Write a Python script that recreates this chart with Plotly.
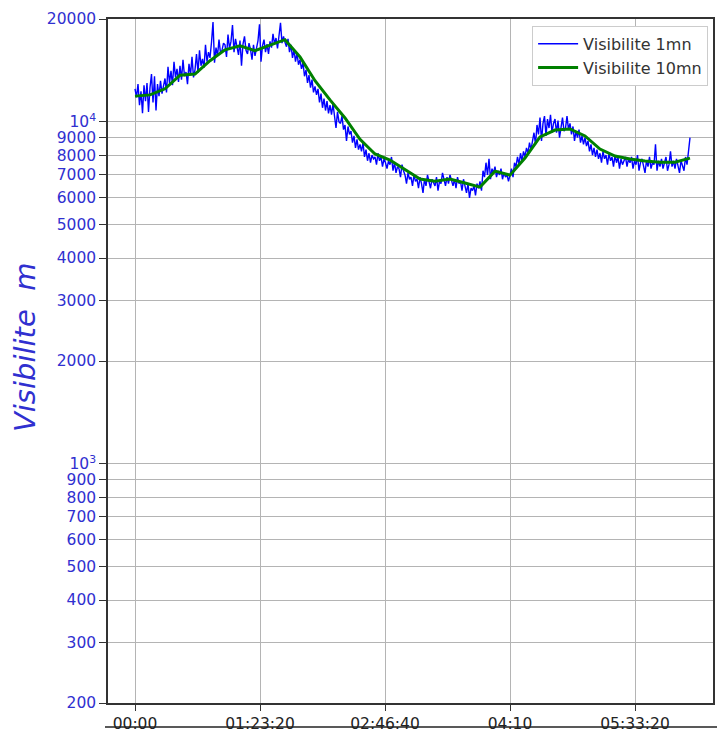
import math
import plotly.graph_objects as go

# ---- data ----
# 1-minute visibility, one value per minute from 00:00
visi_1mn = [
    12500, 11800, 12900, 11200, 12300, 10600, 12800, 11500, 13000, 10700,
    12600, 13800, 11400, 13600, 10800, 12900, 11900, 13200, 12100, 12800,
    13400, 12200, 14500, 13000, 14100, 12800, 15000, 13500, 14300, 13100,
    14600, 13300, 15200, 13600, 14000, 12900, 14800, 13700, 15500, 13500,
    14200, 15800, 13900, 16200, 14600, 15300, 14400, 16800, 15000, 16000,
    15400, 17100, 19600, 14900, 16500, 15600, 17400, 15900, 16200, 17000,
    16800, 15500, 18000, 16400, 17200, 19200, 16000, 17500, 16600, 15700,
    17300, 14600, 16900, 17800, 16200, 15800, 17000, 16300, 15200, 16800,
    15600, 16400, 17300, 19300, 15000, 16700, 17400, 16000, 16900, 15800,
    17200, 16500, 18100, 16900, 17600, 16400, 18300, 19500, 17000, 17800,
    17100, 16600, 17500, 16000, 16800, 15400, 16300, 15000, 15900, 14700,
    15200, 14300, 14900, 13600, 14200, 13000, 13700, 12600, 13300, 12200,
    12700, 12000, 12500, 11400, 12100, 11000, 11700, 10800, 11500, 10600,
    11200, 10500, 11300, 10200, 9600, 10700, 10000, 9900, 10400, 9500,
    9800, 8800, 9700, 9200, 9400, 8700, 9100, 8400, 8900, 8300,
    8600, 8200, 8700, 7900, 8300, 7700, 8100, 7600, 8000, 7800,
    7900, 7500, 8100, 7700, 7900, 7400, 7800, 7600, 7300, 7700,
    7500, 7900, 7200, 7600, 7100, 7400, 7300, 6900, 7500, 7200,
    7000, 6600, 7100, 6800, 6900, 6500, 7000, 6700, 6800, 6400,
    6900, 6600, 6200, 6800, 6500, 7000, 6700, 6400, 6800, 6600,
    6500, 6900, 6300, 6700, 6600, 7100, 6800, 6500, 6900, 6600,
    7000, 6700, 6500, 6800, 6400, 6900, 6600, 6700, 6300, 6800,
    6500, 6200, 6600, 6000, 6400, 6300, 6500, 6100, 6600, 6400,
    6700, 6300, 7200, 6900, 7600, 7000, 7800, 6800, 7300, 7100,
    7400, 6900, 7200, 7000, 7300, 6800, 7100, 6900, 7000, 6700,
    7000, 7300, 6900, 7600, 7400, 7900, 7500, 8100, 7700, 8200,
    7900, 8400, 8100, 8700, 8300, 8900, 9300, 8600, 9800, 9200,
    10300, 8800, 9900, 10400, 9100, 10200, 9600, 10500, 9300, 9900,
    10200, 9300, 10100, 9000, 9800, 10300, 9400, 9600, 10400, 9500,
    9900, 9200, 9700, 8800, 9400, 9000, 9500, 8700, 9100, 8600,
    9000, 8500, 8800, 8200, 8600, 8000, 8400, 7900, 8300, 7800,
    8100, 7600, 8200, 7800, 8000, 7500, 8100, 7700, 7900, 7400,
    8000, 7600, 7900, 7300, 7800, 7500, 7700, 7900, 7400, 7800,
    7600, 7900, 7300, 7700, 7500, 8000, 7200, 7600, 7800, 7400,
    7100, 7700, 7400, 7900, 7300, 7600, 7500, 8600, 7200, 7700,
    7400, 7800, 7300, 7600, 7900, 7200, 7500, 8200, 7400, 7700,
    7300, 7800, 7500, 7100, 7700, 7400, 7200, 7900, 7500, 8200,
    9000,
]
minutes_1mn = list(range(len(visi_1mn)))

# 10-minute visibility, one value every 10 minutes
visi_10mn = [
    11900, 12000, 12500, 13700, 13800, 15100, 16250, 16700, 16150, 16800,
    17400, 15500, 13200, 11600, 10270, 8900, 8060, 7740, 7280, 6810,
    6710, 6810, 6630, 6450, 7180, 6990, 7840, 9040, 9470, 9540,
    9100, 8330, 7950, 7790, 7690, 7630, 7630, 7840,
]
minutes_10mn = [10 * i for i in range(len(visi_10mn))]

x_tick_seconds = [0, 5000, 10000, 15000, 20000]
x_tick_labels = ["00:00", "01:23:20", "02:46:40", "04:10", "05:33:20"]

y_tick_values = [200, 300, 400, 500, 600, 700, 800, 900, 1000,
                 2000, 3000, 4000, 5000, 6000, 7000, 8000, 9000, 10000, 20000]
y_tick_labels = ["200", "300", "400", "500", "600", "700", "800", "900", "10<sup>3</sup>",
                 "2000", "3000", "4000", "5000", "6000", "7000", "8000", "9000", "10<sup>4</sup>", "20000"]

# ---- figure ----
FONT = "DejaVu Sans"
BLUE_TXT = "#3030d0"
GRID = "#b4b4b4"
AX = "#333333"

fig = go.Figure()
fig.add_trace(go.Scatter(
    x=[m * 60 for m in minutes_1mn], y=visi_1mn, mode="lines",
    name="Visibilite 1mn", line=dict(color="#0000ff", width=1.4),
))
fig.add_trace(go.Scatter(
    x=[m * 60 for m in minutes_10mn], y=visi_10mn, mode="lines",
    name="Visibilite 10mn", line=dict(color="#008000", width=3),
))

fig.update_layout(
    width=717, height=729, autosize=False,
    margin=dict(l=108, r=4, t=19, b=26, autoexpand=False),
    plot_bgcolor="white", paper_bgcolor="white",
    font=dict(family=FONT, size=15, color="#222"),
    showlegend=True,
    legend=dict(
        x=0.701, y=0.99, xanchor="left", yanchor="top",
        bgcolor="white", bordercolor="#cccccc", borderwidth=1,
        font=dict(family=FONT, size=16, color="#333"),
        itemwidth=40,
    ),
)
fig.update_xaxes(
    range=[-1080, 23120], automargin=False,
    tickmode="array", tickvals=x_tick_seconds, ticktext=x_tick_labels,
    showgrid=True, gridcolor=GRID, gridwidth=1,
    ticks="outside", ticklen=6, tickcolor=AX,
    showline=True, mirror=True, linecolor=AX, linewidth=1.5,
    zeroline=False,
    tickfont=dict(family=FONT, size=15.5, color="#222"),
)
fig.update_yaxes(
    type="log", range=[math.log10(200), math.log10(20000)], automargin=False,
    tickmode="array", tickvals=y_tick_values, ticktext=y_tick_labels,
    showgrid=True, gridcolor=GRID, gridwidth=1,
    ticks="outside", ticklen=7, tickcolor=AX,
    showline=True, mirror=True, linecolor=AX, linewidth=1.5,
    zeroline=False,
    tickfont=dict(family=FONT, size=15.5, color=BLUE_TXT),
)

# y-axis title placed as an annotation
fig.add_annotation(
    text="<i>Visibilite\u00a0 m</i>", textangle=-90,
    xref="paper", yref="paper", x=-0.137, y=0.5205,
    xanchor="center", yanchor="middle", showarrow=False,
    font=dict(family=FONT, size=29, color=BLUE_TXT),
)

# top edge of the next panel, visible at the bottom of the picture
fig.add_shape(type="line", xref="paper", yref="paper",
              x0=-0.005, x1=1.01, y0=-0.035, y1=-0.035,
              line=dict(color="#222", width=1.5))

fig.write_html("out.html", config={"displayModeBar": False},
               post_script="document.body.style.margin='0';")
